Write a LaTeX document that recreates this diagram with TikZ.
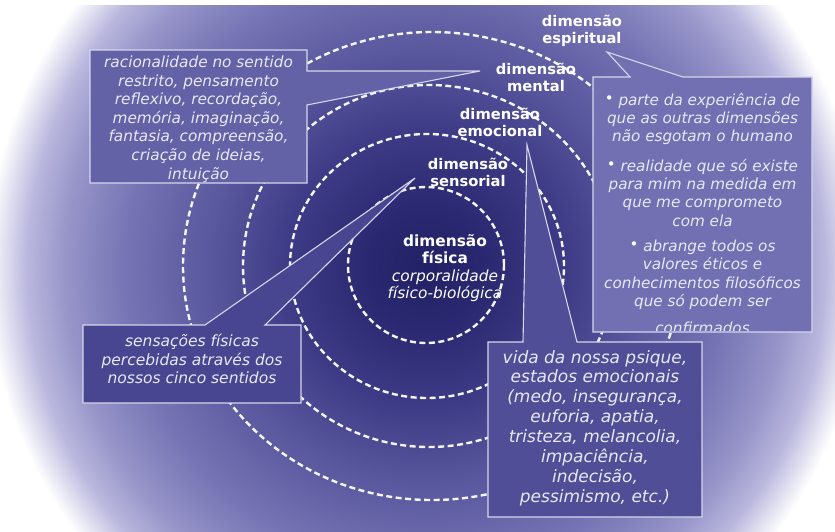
\documentclass[tikz,border=0pt]{standalone}
\usepackage{fontspec}
\setmainfont{DejaVu Sans}
\usepackage{xcolor}
\definecolor{bgcore}{RGB}{34,32,102}
\definecolor{bgdark}{RGB}{42,40,112}
\definecolor{bgmid}{RGB}{62,60,134}
\definecolor{bgouter}{RGB}{90,88,158}
\definecolor{bgpale}{RGB}{118,116,180}
\definecolor{bgedge}{RGB}{150,148,200}
\definecolor{bglight}{RGB}{186,184,222}
\definecolor{ringwhite}{RGB}{245,245,252}
\definecolor{boxline}{RGB}{214,214,236}
\definecolor{mentalfill}{RGB}{100,98,166}
\definecolor{spiritfill}{RGB}{114,112,178}
\definecolor{sensefill}{RGB}{72,70,145}
\definecolor{emofill}{RGB}{80,78,150}
\definecolor{boxtext}{RGB}{232,232,246}
% radii in bp: 25bp is the half side of the shaded square (450px), so 1bp = 18px
\pgfdeclareradialshading{glow}{\pgfpointorigin}{color(0bp)=(bgcore); color(3.3bp)=(bgdark); color(7.8bp)=(bgmid); color(12.2bp)=(bgouter); color(16.7bp)=(bgpale); color(20bp)=(bgedge); color(22.2bp)=(bglight); color(24.4bp)=(white); color(50bp)=(white)}
\newcommand{\dotitem}{{\upshape\fontsize{15}{15}\selectfont\color{white}\raisebox{0.25ex}{\textbullet}}\ }

\begin{document}
\begin{tikzpicture}[x=1pt,y=-1pt,
    ring/.style={draw=ringwhite, line width=2.4pt, dash pattern=on 6pt off 3.5pt},
    callout/.style={draw=boxline, line width=1.1pt},
    boxtxt/.style={text=boxtext, align=center, inner sep=0pt},
    dimlabel/.style={text=white, align=center, inner sep=0pt, font=\fontsize{14.7}{17}\selectfont\bfseries}]
    \useasboundingbox (0,0) rectangle (835,531);

    % Background glow, fading to white at the edges
    \fill[white] (0,0) rectangle (835,531);
    \begin{scope}
        \clip (0,5) rectangle (835,531);
        \shade[shading=glow] (-24,-182) rectangle (876,718);
    \end{scope}

    % Dashed rings, one per dimension
    \draw[ring] (426,265) circle [radius=78pt];
    \draw[ring] (427,266) ellipse [x radius=137pt, y radius=132pt];
    \draw[ring] (429,266) ellipse [x radius=186pt, y radius=181pt];
    \draw[ring] (432,266) ellipse [x radius=249pt, y radius=234pt];

    % Tips of the callouts
    \coordinate (mentaltip) at (480,71);
    \coordinate (spirittip) at (607,52);
    \coordinate (sensetip) at (415,178);
    \coordinate (emotip) at (527,145);

    % Callout boxes
    \filldraw[callout, fill=mentalfill] (90,50) -- (307,50) -- (307,71) -- (mentaltip) -- (307,105) -- (307,183) -- (90,183) -- cycle;
    \filldraw[callout, fill=spiritfill] (593,77) -- (630,77) -- (spirittip) -- (683,77) -- (812,77) -- (812,332) -- (593,332) -- cycle;
    \filldraw[callout, fill=sensefill] (83,325) -- (205,325) -- (sensetip) -- (265,325) -- (301,325) -- (301,403) -- (83,403) -- cycle;
    \filldraw[callout, fill=emofill] (488,342) -- (523,342) -- (emotip) -- (577,342) -- (702,342) -- (702,517) -- (488,517) -- cycle;

    % Box texts
    \node[boxtxt, font=\itshape\fontsize{15.3}{18.6}\selectfont] (mentaltext) at (198.5,119) {racionalidade no sentido\\restrito, pensamento\\reflexivo, recordação,\\memória, imaginação,\\fantasia, compreensão,\\criação de ideias,\\intuição};
    \begin{scope}
        \clip (594,78) rectangle (811,330.5);
        \node[boxtxt, anchor=north, font=\itshape\fontsize{15.2}{18.3}\selectfont] (spirittext) at (702.5,93) {\dotitem parte da experiência de\\que as outras dimensões\\não esgotam o humano\\[11pt]
            \dotitem realidade que só existe\\para mim na medida em\\que me comprometo\\com ela\\[7pt]
            \dotitem abrange todos os\\valores éticos e\\conhecimentos filosóficos\\que só podem ser\\[9pt]confirmados};
    \end{scope}
    \node[boxtxt, font=\itshape\fontsize{15.5}{18.5}\selectfont] (sensetext) at (192,359) {sensações físicas\\percebidas através dos\\nossos cinco sentidos};
    \node[boxtxt, font=\itshape\fontsize{17}{19.9}\selectfont] (emotext) at (595,428) {vida da nossa psique,\\estados emocionais\\(medo, insegurança,\\euforia, apatia,\\tristeza, melancolia,\\impaciência,\\indecisão,\\pessimismo, etc.)};

    % Dimension labels
    \node[dimlabel] (spiritlbl) at (582,31) {dimensão\\espiritual};
    \node[dimlabel] (mentallbl) at (536,77) {dimensão\\mental};
    \node[dimlabel] (emolbl) at (500,122) {dimensão\\emocional};
    \node[dimlabel] (senselbl) at (468,172) {dimensão\\sensorial};
    \node[dimlabel, font=\fontsize{15.4}{17.5}\selectfont] (fisicalbl) at (445,268) {\textbf{dimensão}\\\textbf{física}\\\textit{corporalidade}\\\textit{físico-biológica}};
\end{tikzpicture}
\end{document}
